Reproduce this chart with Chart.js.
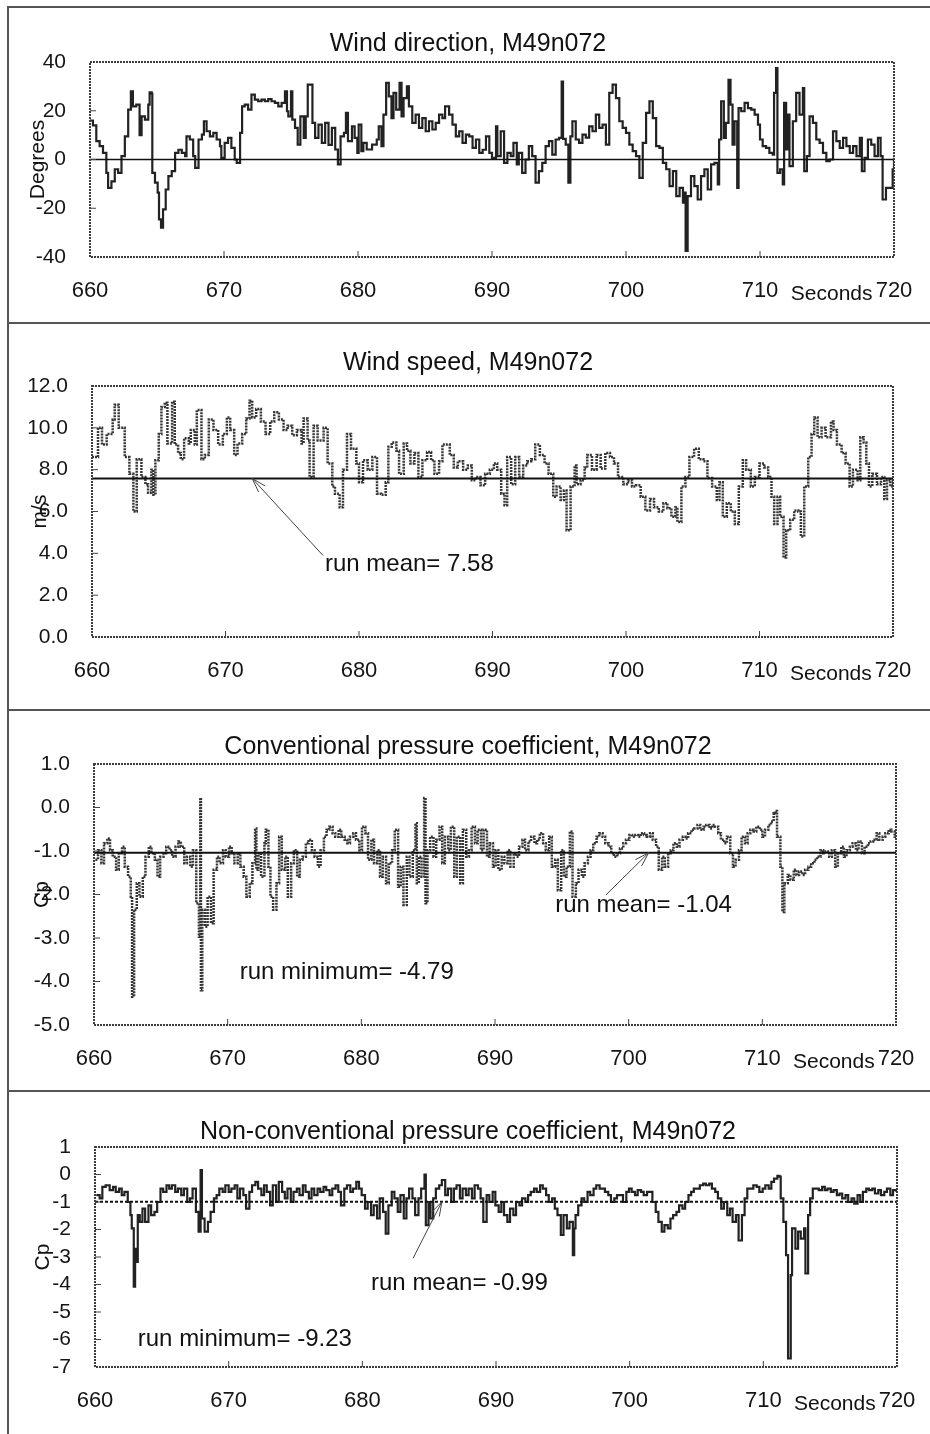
<!DOCTYPE html>
<html>
<head>
    <title>M49n072 time histories, 660-720 s</title>
    <script src="https://cdn.jsdelivr.net/npm/chart.js"></script>
    <style>
        body { margin: 0; background: #fff; }
        #page { position: relative; width: 930px; height: 1434px; overflow: hidden; background: #fff; }
        #page canvas { position: absolute; left: 0; }
        .rule { position: absolute; background: #555; }
    </style>
</head>
<body>
<div id="page">
    <div class="rule" style="left:7px;top:6px;width:923px;height:2px"></div>
    <div class="rule" style="left:7px;top:6px;width:2px;height:1428px"></div>
    <div class="rule" style="left:7px;top:322px;width:923px;height:2px"></div>
    <div class="rule" style="left:7px;top:709px;width:923px;height:2px"></div>
    <div class="rule" style="left:7px;top:1090px;width:923px;height:2px"></div>
    <canvas id="dirChart" width="930" height="314" style="top:8px"></canvas>
    <canvas id="spdChart" width="930" height="385" style="top:324px"></canvas>
    <canvas id="cpChart" width="930" height="379" style="top:711px"></canvas>
    <canvas id="ncpChart" width="930" height="342" style="top:1092px"></canvas>
</div>

<script>
    // ---- data ----
    const secTicks = [660, 670, 680, 690, 700, 710, 720];

    // wind direction (degrees)
    const dirTicks = [-40, -20, 0, 20, 40];
    const dirT = [
        660.0,660.22,660.47,660.72,660.97,661.22,661.35,661.6,661.85,662.1,
        662.35,662.6,662.85,663.05,663.2,663.45,663.7,663.85,664.1,664.35,
        664.45,664.6,664.65,664.85,665.05,665.15,665.3,665.45,665.65,665.85,
        666.1,666.35,666.6,666.85,667.1,667.2,667.45,667.7,667.85,668.1,
        668.35,668.5,668.7,668.95,669.2,669.45,669.7,669.8,670.05,670.3,
        670.55,670.8,670.95,671.2,671.35,671.55,671.8,672.05,672.3,672.55,
        672.8,673.05,673.3,673.55,673.8,674.05,674.3,674.55,674.7,674.8,
        675.0,675.1,675.3,675.5,675.7,675.95,676.1,676.25,676.5,676.6,
        676.8,677.05,677.3,677.55,677.8,678.05,678.3,678.5,678.7,678.95,
        679.1,679.25,679.55,679.75,679.95,680.05,680.25,680.4,680.65,681.05,
        681.4,681.55,681.75,681.9,682.1,682.3,682.5,682.65,682.85,683.1,
        683.25,683.4,683.65,683.8,684.05,684.3,684.55,684.8,685.05,685.3,
        685.55,685.8,686.05,686.3,686.5,686.8,687.05,687.3,687.55,687.8,
        688.05,688.3,688.55,688.8,689.05,689.3,689.55,689.8,690.0,690.3,
        690.4,690.65,690.9,691.15,691.4,691.6,691.85,692.0,692.25,692.5,
        692.75,693.0,693.25,693.5,693.75,694.0,694.25,694.5,694.75,695.0,
        695.2,695.3,695.5,695.7,695.85,696.0,696.25,696.5,696.75,697.0,
        697.25,697.5,697.75,698.0,698.25,698.5,698.75,699.0,699.25,699.5,
        699.75,700.0,700.25,700.5,700.75,701.0,701.25,701.5,701.75,702.0,
        702.25,702.5,702.75,703.0,703.25,703.5,703.75,704.0,704.25,704.35,
        704.45,704.6,704.85,705.1,705.35,705.6,705.85,706.1,706.35,706.6,
        706.85,706.95,707.1,707.3,707.45,707.65,707.8,707.95,708.1,708.3,
        708.4,708.6,708.85,709.1,709.35,709.6,709.85,710.0,710.2,710.45,
        710.7,710.95,711.05,711.2,711.3,711.5,711.7,711.8,711.95,712.05,
        712.2,712.45,712.7,712.95,713.2,713.3,713.5,713.7,713.95,714.2,
        714.45,714.7,714.95,715.2,715.45,715.7,715.95,716.2,716.45,716.7,
        716.95,717.2,717.45,717.6,717.8,718.05,718.3,718.55,718.8,719.0,
        719.15,719.4,719.65,719.9,720.0
    ];
    const dirV = [
        16,14,7.5,5.5,2.7,-5.5,-11.6,-9,-4,-5.5,
        1.4,9.5,20.5,28,21.8,22.5,10,17.7,16.4,22.5,
        27.6,27,-5.5,-9.5,-13.6,-24.6,-28,-20.5,-12.3,-6.8,
        -4.8,2.7,4,2.7,1.4,9.5,8.2,1.4,-3.4,8.2,
        10.2,15.7,11.6,9.5,10.9,8.2,5.5,0.7,6.8,8.9,
        4.8,0,-1.4,10.9,21.8,22.5,20.5,26.6,24.6,23.9,
        24.6,23.9,24.8,23.9,23.2,21.8,23.2,28,19.8,17.7,
        28,16.4,13,6.1,17.7,8.9,17.7,30.7,30.7,15,
        8.9,14.3,6.8,15,6,13,4.1,-2,9.5,10.9,
        19.1,7.5,13.6,8.9,2.7,14.3,3.4,6.8,4.1,6.1,
        8.2,13.6,5.5,18.4,31.4,25.9,17,27.3,20.5,31.4,
        17.7,25.2,30,21.8,15,18.4,13,17,11.6,15.7,
        12.3,15,18.4,17,21.8,18.4,14.3,9.5,11.6,6.8,
        10.2,9.5,4.8,8.2,2.7,4,9.5,2.7,0.7,13.6,
        1.4,11.6,-1.4,2.7,1.4,6.8,-2,2.7,-5.5,0,
        5.5,1.4,-9.5,-4.8,-1.4,5.5,7.5,2,8.2,8.9,
        32,8.5,6.1,-9.5,9.5,15.7,8.2,6.8,10.2,9,
        13.6,11.6,18.4,13,14.3,6.1,27.3,30.7,25.2,15.7,
        13,10.9,6.1,3.4,1.4,-7.5,6.8,19.1,23.9,17,
        5.5,4.8,-1.4,-4,-10.9,-4.8,-15,-11.6,-17.7,-13.6,
        -37.5,-15,-6.8,-10.9,-16.4,-6.8,-4,-12.3,-2,-1.4,
        -10.2,8.2,23.9,8.9,15,32.7,22.5,6.1,15.7,-11.6,
        21.1,19.8,23.2,21.1,20.5,18.4,14.3,8.2,5.5,4.8,
        2.7,2,27.3,37.5,-5.5,-4,-10.2,23.2,4.1,18.4,
        -2.7,15.7,27.3,18.4,29.3,-4.8,1.4,17.7,15,8.2,
        6.8,2.7,-0.7,0,11.6,7.5,4.8,8.9,5.5,2.7,
        5.5,1.4,8.9,-4.8,0.7,8.2,6.1,1.4,8.9,1.4,
        -16.4,-11.6,-11.6,-4,0.7
    ];

    // wind speed (m/s)
    const spdTicks = [0, 2, 4, 6, 8, 10, 12];
    const spdMean = 7.58;
    const spdT = [
        660.0,660.45,660.75,661.1,661.55,661.7,662.0,662.45,662.8,663.1,
        663.35,663.7,664.0,664.2,664.45,664.6,664.75,665.0,665.2,665.45,
        665.65,666.0,666.2,666.45,666.65,666.9,667.25,667.4,667.7,667.85,
        668.2,668.45,668.75,669.1,669.45,669.8,670.1,670.35,670.65,670.9,
        671.25,671.55,671.8,672.0,672.3,672.65,673.0,673.35,673.65,674.0,
        674.35,674.65,675.0,675.35,675.7,675.85,676.15,676.3,676.6,676.9,
        677.35,677.65,678.0,678.2,678.55,678.8,679.1,679.4,679.8,680.0,
        680.3,680.65,681.0,681.35,681.65,682.0,682.2,682.45,682.8,683.0,
        683.35,683.6,683.85,684.15,684.45,684.75,685.1,685.4,685.65,686.0,
        686.25,686.55,686.8,687.1,687.4,687.8,688.15,688.45,688.75,689.1,
        689.45,689.8,690.1,690.35,690.65,690.9,691.1,691.4,691.7,692.0,
        692.3,692.6,692.9,693.2,693.55,693.9,694.2,694.55,694.8,695.1,
        695.35,695.55,695.85,696.15,696.3,696.6,696.9,697.1,697.45,697.8,
        698.1,698.45,698.8,699.1,699.4,699.8,700.15,700.45,700.75,701.1,
        701.45,701.8,702.1,702.45,702.8,703.1,703.4,703.7,703.85,704.15,
        704.45,704.75,705.1,705.45,705.8,706.1,706.45,706.8,707.0,707.25,
        707.55,707.85,708.15,708.45,708.75,709.0,709.35,709.65,710.0,710.35,
        710.65,710.9,711.1,711.35,711.55,711.8,712.0,712.3,712.6,712.9,
        713.1,713.35,713.65,713.9,714.1,714.35,714.65,714.95,715.35,715.55,
        715.8,716.15,716.45,716.75,717.0,717.35,717.55,717.8,718.0,718.2,
        718.45,718.8,719.1,719.35,719.55,719.8,720.0
    ];
    const spdV = [
        8.6,10.0,9.2,9.7,10.4,11.1,10.0,8.6,7.8,6.0,
        8.5,7.65,7.3,6.9,8.0,6.8,8.45,9.7,11.0,11.2,
        9.25,11.25,9.2,8.8,8.5,9.5,9.25,9.9,9.2,10.85,
        8.5,8.7,10.4,9.9,9.2,9.7,10.5,9.9,8.7,9.25,
        9.7,10.45,11.3,10.5,10.9,10.3,9.7,10.3,10.75,10.4,
        9.9,10.1,9.65,9.9,9.25,10.45,9.4,7.65,10.1,9.4,
        10.0,8.3,7.2,6.85,6.2,8.0,9.7,9.0,8.3,7.4,
        8.45,8.0,8.6,6.85,6.8,7.4,9.1,9.3,8.9,7.8,
        9.25,8.9,8.3,8.8,7.65,8.45,8.85,8.45,7.8,8.4,
        9.2,9.2,8.7,8.1,8.4,8.0,8.2,7.5,7.65,7.25,
        7.8,8.0,8.3,8.0,6.85,6.3,8.6,7.3,8.6,7.65,
        8.2,8.4,8.5,9.2,8.7,8.3,7.8,6.7,7.2,6.55,
        7.0,5.1,7.2,8.2,7.3,7.5,8.1,8.7,8.0,8.7,
        8.05,8.8,8.6,8.3,7.65,7.3,7.5,7.2,7.25,6.7,
        6.05,6.6,6.2,6.0,6.4,6.15,5.75,6.2,5.5,7.2,
        7.65,8.6,9.0,8.5,8.4,7.6,7.2,6.55,7.4,5.75,
        6.4,6.0,5.4,7.2,8.45,8.0,7.2,7.65,8.3,8.1,
        7.65,6.7,5.4,6.7,5.75,3.8,5.1,5.6,6.05,6.0,
        4.8,7.2,8.6,9.7,10.5,9.55,10.0,9.55,10.3,9.9,
        9.2,8.8,8.3,7.2,8.0,7.5,9.55,9.3,8.3,7.2,
        7.8,7.3,7.65,6.6,7.5,7.2,7.5
    ];

    // conventional Cp
    const cpTicks = [-5, -4, -3, -2, -1, 0, 1];
    const cpMean = -1.04;
    const cpMin = -4.79;
    const cpT = [
        660.1,660.3,660.55,660.75,661.0,661.2,661.4,661.65,661.85,662.1,
        662.3,662.55,662.75,662.85,663.0,663.2,663.4,663.65,663.85,664.1,
        664.3,664.55,664.75,664.95,665.2,665.4,665.65,665.85,666.1,666.3,
        666.5,666.75,666.95,667.2,667.4,667.65,667.85,667.95,668.0,668.1,
        668.3,668.5,668.75,668.95,669.2,669.4,669.65,669.85,670.1,670.3,
        670.5,670.75,670.95,671.2,671.4,671.65,671.85,672.05,672.15,672.3,
        672.5,672.75,672.85,673.05,673.2,673.4,673.65,673.85,674.05,674.3,
        674.5,674.75,674.95,675.2,675.4,675.6,675.85,676.05,676.3,676.5,
        676.75,676.95,677.2,677.4,677.6,677.85,678.05,678.3,678.5,678.75,
        678.95,679.15,679.4,679.6,679.85,680.05,680.3,680.5,680.75,680.95,
        681.2,681.4,681.6,681.85,682.05,682.3,682.5,682.75,682.95,683.15,
        683.4,683.6,683.85,684.05,684.15,684.3,684.5,684.7,684.8,684.95,
        685.15,685.4,685.6,685.85,686.05,686.25,686.5,686.7,686.95,687.15,
        687.4,687.6,687.85,688.05,688.25,688.5,688.7,688.95,689.15,689.4,
        689.6,689.85,690.05,690.25,690.5,690.7,690.95,691.15,691.4,691.6,
        691.8,692.05,692.25,692.5,692.7,692.95,693.15,693.35,693.6,693.8,
        694.05,694.25,694.5,694.7,694.95,695.15,695.35,695.6,695.8,696.05,
        696.25,696.5,696.7,696.95,697.15,697.35,697.6,697.8,698.05,698.25,
        698.5,698.7,698.9,699.15,699.35,699.6,699.8,700.05,700.25,700.5,
        700.7,700.9,701.15,701.35,701.6,701.8,702.05,702.25,702.5,702.7,
        702.95,703.15,703.35,703.6,703.8,704.05,704.25,704.45,704.7,704.9,
        705.15,705.35,705.6,705.8,706.05,706.25,706.45,706.7,706.9,707.15,
        707.35,707.6,707.8,708.0,708.25,708.45,708.7,708.9,709.1,709.35,
        709.55,709.8,710.0,710.2,710.45,710.65,710.85,710.95,711.1,711.35,
        711.5,711.65,711.9,712.1,712.35,712.55,712.75,713.0,713.2,713.45,
        713.65,713.9,714.1,714.35,714.55,714.75,715.0,715.2,715.45,715.65,
        715.9,716.1,716.3,716.55,716.75,717.0,717.2,717.45,717.65,717.9,
        718.1,718.3,718.55,718.75,719.0,719.2,719.45,719.65,719.9,720.0
    ];
    const cpV = [
        -1.2,-0.98,-1.28,-0.82,-0.71,-0.98,-1.13,-1.43,-1.05,-0.9,
        -1.36,-1.59,-2.05,-4.35,-2.35,-1.74,-2.05,-1.59,-1.13,-0.9,
        -1.05,-1.2,-1.59,-1.13,-1.05,-0.9,-0.98,-1.13,-0.9,-0.78,
        -0.9,-1.28,-1.13,-1.36,-0.98,-2.2,-2.97,0.22,-4.2,-2.35,
        -2.74,-2.05,-2.66,-1.43,-1.13,-1.28,-0.98,-1.13,-0.9,-1.05,
        -1.28,-1.05,-1.36,-1.59,-2.05,-1.74,-1.28,-0.48,-1.43,-1.05,
        -1.59,-0.82,-0.51,-1.36,-2.05,-2.35,-1.74,-0.67,-1.43,-1.13,
        -2.05,-1.28,-0.98,-1.59,-1.2,-1.13,-0.82,-0.74,-0.98,-1.13,
        -1.36,-0.98,-0.67,-0.51,-0.44,-0.59,-0.67,-0.51,-0.67,-0.74,
        -0.82,-0.67,-0.59,-0.74,-0.98,-0.44,-0.59,-1.2,-0.74,-1.28,
        -0.98,-1.59,-1.13,-1.74,-1.28,-0.98,-0.51,-1.82,-1.36,-2.24,
        -1.13,-1.59,-0.98,-0.36,-1.74,-1.13,-1.59,0.22,-2.2,-0.98,
        -0.67,-1.13,-0.74,-0.44,-1.28,-0.67,-0.98,-0.44,-1.59,-0.67,
        -1.74,-0.51,-1.13,-0.98,-0.44,-0.82,-0.51,-0.98,-0.51,-1.13,
        -0.82,-1.36,-0.98,-1.43,-1.13,-1.28,-0.98,-1.36,-1.05,-1.13,
        -0.9,-0.74,-0.98,-0.78,-0.67,-0.82,-0.74,-0.59,-0.82,-0.98,
        -0.67,-1.36,-1.2,-1.9,-0.98,-1.59,-1.36,-0.55,-2.05,-1.74,
        -1.43,-1.59,-1.28,-1.13,-0.98,-0.82,-0.67,-0.59,-0.67,-0.82,
        -0.9,-1.05,-1.13,-1.05,-0.94,-0.82,-0.74,-0.63,-0.67,-0.63,
        -0.67,-0.59,-0.63,-0.67,-0.59,-0.74,-0.9,-1.43,-1.13,-1.36,
        -1.05,-0.98,-0.82,-0.9,-0.74,-0.67,-0.71,-0.59,-0.51,-0.48,
        -0.4,-0.51,-0.44,-0.4,-0.48,-0.4,-0.44,-0.59,-0.74,-0.82,
        -0.67,-1.05,-1.36,-1.2,-0.98,-0.67,-0.82,-0.59,-0.51,-0.55,
        -0.44,-0.51,-0.67,-0.51,-0.4,-0.32,-0.13,-0.08,-0.67,-1.36,
        -2.4,-1.74,-1.55,-1.66,-1.43,-1.55,-1.47,-1.55,-1.43,-1.36,
        -1.28,-1.2,-1.13,-0.98,-1.05,-1.01,-1.13,-0.98,-1.36,-1.05,
        -0.9,-1.13,-0.98,-0.9,-0.82,-0.98,-0.78,-1.05,-0.9,-0.82,
        -0.78,-0.74,-0.59,-0.74,-0.67,-0.59,-0.51,-0.55,-0.67,-0.6
    ];

    // non-conventional Cp
    const ncpTicks = [-7, -6, -5, -4, -3, -2, -1, 0, 1];
    const ncpMean = -0.99;
    const ncpMin = -9.23;
    const ncpT = [
        660.1,660.35,660.55,660.8,661.1,661.35,661.55,661.8,662.0,662.2,
        662.45,662.65,662.75,662.9,663.0,663.1,663.2,663.35,663.55,663.75,
        664.0,664.2,664.45,664.65,664.9,665.1,665.35,665.55,665.75,666.0,
        666.2,666.45,666.65,666.9,667.1,667.3,667.55,667.75,667.9,668.0,
        668.2,668.45,668.65,668.9,669.1,669.3,669.55,669.75,670.0,670.2,
        670.45,670.65,670.85,671.1,671.3,671.55,671.75,672.0,672.2,672.45,
        672.65,672.85,673.1,673.3,673.55,673.75,674.0,674.2,674.4,674.65,
        674.85,675.1,675.3,675.55,675.75,676.0,676.2,676.4,676.65,676.85,
        677.1,677.3,677.55,677.75,678.0,678.2,678.4,678.65,678.85,679.1,
        679.3,679.55,679.75,679.95,680.2,680.4,680.65,680.85,681.1,681.3,
        681.55,681.75,681.95,682.2,682.4,682.65,682.85,683.1,683.3,683.5,
        683.75,683.95,684.2,684.4,684.65,684.75,684.95,685.1,685.3,685.5,
        685.75,685.95,686.2,686.4,686.65,686.85,687.05,687.3,687.5,687.75,
        687.95,688.2,688.4,688.65,688.85,689.05,689.3,689.5,689.75,689.95,
        690.2,690.4,690.6,690.85,691.05,691.3,691.5,691.75,691.95,692.2,
        692.4,692.6,692.85,693.05,693.3,693.5,693.75,693.95,694.2,694.4,
        694.6,694.85,695.05,695.3,695.5,695.75,695.85,695.95,696.15,696.4,
        696.6,696.85,697.05,697.3,697.5,697.75,697.95,698.15,698.4,698.6,
        698.85,699.05,699.3,699.5,699.75,699.95,700.15,700.4,700.6,700.85,
        701.05,701.3,701.5,701.7,701.95,702.15,702.4,702.6,702.85,703.05,
        703.25,703.5,703.7,703.95,704.15,704.4,704.6,704.8,705.05,705.25,
        705.5,705.7,705.95,706.15,706.4,706.6,706.85,707.05,707.3,707.5,
        707.7,707.95,708.15,708.4,708.6,708.8,709.05,709.25,709.5,709.7,
        709.95,710.15,710.4,710.6,710.8,711.05,711.2,711.3,711.5,711.7,
        711.85,712.05,712.15,712.4,712.6,712.8,713.05,713.15,713.35,713.5,
        713.7,713.95,714.15,714.4,714.6,714.8,715.05,715.25,715.5,715.7,
        715.9,716.15,716.35,716.6,716.8,717.05,717.25,717.45,717.7,717.9,
        718.15,718.35,718.6,718.8,719.05,719.25,719.5,719.7,719.95
    ];
    const ncpV = [
        -0.75,-0.87,-0.45,-0.39,-0.57,-0.45,-0.63,-0.51,-0.75,-0.63,
        -1.0,-1.48,-1.96,-4.08,-2.7,-3.18,-1.48,-1.72,-1.24,-1.72,
        -1.12,-1.48,-1.36,-1.0,-0.51,-0.63,-0.39,-0.51,-0.39,-0.63,
        -0.51,-0.75,-0.51,-1.0,-0.87,-0.51,-1.36,-2.08,0.16,-1.6,
        -2.08,-1.72,-1.36,-0.87,-0.75,-0.51,-0.63,-0.39,-0.63,-0.51,
        -0.39,-0.87,-0.51,-0.75,-1.24,-0.63,-0.39,-0.27,-0.51,-0.75,
        -0.39,-0.63,-1.12,-0.39,-1.0,-0.27,-0.63,-0.87,-0.51,-1.0,
        -0.63,-0.51,-0.75,-0.39,-0.63,-0.87,-0.51,-0.75,-0.51,-0.63,
        -0.45,-0.57,-0.75,-0.51,-0.39,-0.63,-1.12,-0.51,-0.39,-0.63,
        -0.51,-0.27,-0.51,-0.75,-1.24,-1.0,-1.48,-1.12,-1.6,-0.87,
        -1.36,-2.15,-1.12,-0.63,-0.87,-1.36,-0.75,-1.6,-0.87,-0.51,
        -0.87,-1.48,-0.87,-0.51,0.0,-1.84,-1.0,-1.6,-0.87,-0.51,
        -0.39,-0.2,-0.75,-0.51,-1.0,-0.51,-0.39,-0.87,-0.51,-0.75,
        -0.51,-0.87,-0.39,-0.51,-0.87,-1.72,-0.75,-1.0,-0.63,-1.12,
        -1.36,-1.0,-1.48,-1.72,-1.24,-1.48,-1.0,-1.12,-0.87,-1.0,
        -0.75,-0.63,-0.51,-0.63,-0.39,-0.51,-0.75,-1.0,-0.87,-1.24,
        -1.48,-2.2,-1.48,-1.96,-1.72,-2.93,-1.96,-1.48,-1.12,-0.87,
        -1.0,-0.63,-0.75,-0.51,-0.39,-0.51,-0.51,-0.63,-0.75,-1.0,
        -0.87,-0.75,-0.75,-1.0,-0.63,-0.51,-0.63,-0.75,-0.57,-0.63,
        -0.75,-0.63,-0.63,-1.0,-1.36,-1.72,-2.08,-1.84,-1.96,-1.6,
        -1.48,-1.36,-1.12,-1.24,-1.0,-0.75,-0.63,-0.51,-0.51,-0.39,
        -0.33,-0.39,-0.33,-0.51,-0.63,-0.87,-1.24,-1.0,-1.48,-1.24,
        -1.72,-1.48,-2.4,-1.48,-0.87,-0.51,-0.51,-0.39,-0.45,-0.63,
        -0.51,-0.39,-0.51,-0.27,-0.15,-0.05,-0.08,-0.87,-1.72,-2.93,
        -6.69,-3.66,-1.96,-2.7,-2.08,-2.33,-1.96,-3.6,-1.48,-0.87,
        -0.51,-0.51,-0.57,-0.45,-0.57,-0.51,-0.63,-0.57,-0.75,-0.69,
        -0.87,-0.75,-1.0,-0.87,-1.06,-0.75,-1.0,-0.63,-0.51,-0.57,
        -0.51,-0.69,-0.57,-0.75,-0.63,-0.51,-0.75,-0.57,-0.63
    ];

    // ---- drawing ----
    const FONT = '"Liberation Sans", Arial, Helvetica, sans-serif';
    Chart.defaults.font.family = FONT;
    Chart.defaults.color = '#151515';

    function drawArrow(ctx, x0, y0, x1, y1) {
        const ang = Math.atan2(y1 - y0, x1 - x0);
        ctx.beginPath();
        ctx.moveTo(x0, y0);
        ctx.lineTo(x1, y1);
        ctx.moveTo(x1 - 15 * Math.cos(ang - 0.3), y1 - 15 * Math.sin(ang - 0.3));
        ctx.lineTo(x1, y1);
        ctx.lineTo(x1 - 15 * Math.cos(ang + 0.3), y1 - 15 * Math.sin(ang + 0.3));
        ctx.stroke();
    }

    // frame, inward ticks, titles, reference line and notes
    const decor = {
        id: 'decor',
        afterDatasetsDraw(chart, args, o) {
            const { ctx, chartArea: a, scales: { x, y } } = chart;
            ctx.save();

            if (o.refLine !== undefined) {
                const py = y.getPixelForValue(o.refLine);
                ctx.strokeStyle = '#111';
                ctx.lineWidth = o.refWidth;
                ctx.setLineDash(o.refDash);
                ctx.beginPath();
                ctx.moveTo(a.left, py);
                ctx.lineTo(a.right, py);
                ctx.stroke();
            }

            ctx.strokeStyle = '#3c3c3c';
            ctx.lineWidth = 2;
            ctx.setLineDash([2, 1]);
            ctx.strokeRect(a.left, a.top, a.width, a.height);
            ctx.setLineDash([]);

            ctx.lineWidth = 1;
            ctx.strokeStyle = '#444';
            ctx.beginPath();
            y.ticks.forEach(t => {
                const py = y.getPixelForValue(t.value);
                if (py > a.top + 3 && py < a.bottom - 3) { ctx.moveTo(a.left, py); ctx.lineTo(a.left + 6, py); }
            });
            x.ticks.forEach(t => {
                const px = x.getPixelForValue(t.value);
                if (px > a.left + 3 && px < a.right - 3) { ctx.moveTo(px, a.bottom); ctx.lineTo(px, a.bottom - 6); }
            });
            ctx.stroke();

            ctx.fillStyle = '#111';
            ctx.textAlign = 'center';
            ctx.textBaseline = 'middle';
            ctx.font = '25px ' + FONT;
            ctx.fillText(o.title, chart.width / 2 + 3, a.top + o.titleDy);

            ctx.font = '21px ' + FONT;
            ctx.fillText('Seconds', x.getPixelForValue(715.35), a.bottom + 37);

            ctx.save();
            ctx.translate(a.left - 52, (a.top + a.bottom) / 2);
            ctx.rotate(-Math.PI / 2);
            ctx.fillText(o.yLabel, 0, 0);
            ctx.restore();

            ctx.font = '24px ' + FONT;
            ctx.textAlign = 'left';
            ctx.strokeStyle = '#444';
            ctx.lineWidth = 1;
            (o.notes || []).forEach(n => {
                ctx.fillText(n.text, x.getPixelForValue(n.at[0]), y.getPixelForValue(n.at[1]));
                if (n.arrow) {
                    const [t0, v0, t1, v1] = n.arrow;
                    drawArrow(ctx, x.getPixelForValue(t0), y.getPixelForValue(v0),
                        x.getPixelForValue(t1), y.getPixelForValue(v1));
                }
            });
            ctx.restore();
        }
    };

    function makeChart(id, box, t, v, yTicks, yFmt, line, decorOpts) {
        const canvas = document.getElementById(id);
        const top = parseInt(canvas.style.top);
        const points = t.map((tt, i) => ({ x: tt, y: v[i] }));
        return new Chart(canvas, {
            type: 'line',
            data: {
                datasets: [{
                    data: points,
                    stepped: true,
                    borderColor: line.color,
                    borderWidth: line.width,
                    borderDash: line.dash,
                    pointRadius: 0,
                    fill: false
                }]
            },
            options: {
                responsive: false,
                animation: false,
                devicePixelRatio: 1,
                layout: { padding: { left: 0, top: box.t - top, right: 930 - box.r, bottom: 0 } },
                plugins: { legend: { display: false }, tooltip: { enabled: false }, decor: decorOpts },
                scales: {
                    x: {
                        type: 'linear',
                        min: secTicks[0],
                        max: secTicks[secTicks.length - 1],
                        grid: { display: false },
                        border: { display: false },
                        afterBuildTicks: s => { s.ticks = secTicks.map(val => ({ value: val })); },
                        afterFit: s => { s.height = top + canvas.height - box.b; },
                        ticks: { padding: 13, autoSkip: false, maxRotation: 0, font: { size: 22 }, color: '#151515' }
                    },
                    y: {
                        min: yTicks[0],
                        max: yTicks[yTicks.length - 1],
                        grid: { display: false },
                        border: { display: false },
                        afterBuildTicks: s => { s.ticks = yTicks.map(val => ({ value: val })); },
                        afterFit: s => { s.width = box.l; },
                        ticks: { padding: 16, autoSkip: false, font: { size: 21 }, color: '#151515', callback: yFmt }
                    }
                }
            },
            plugins: [decor]
        });
    }

    const solid = { color: '#222', width: 2.2, dash: [] };
    const dotted = { color: '#363636', width: 2.5, dash: [2, 1] };

    makeChart('dirChart', { l: 90, t: 62, r: 894, b: 257 }, dirT, dirV, dirTicks, val => String(val), solid, {
        title: 'Wind direction, M49n072', titleDy: -18, yLabel: 'Degrees',
        refLine: 0, refWidth: 1.5, refDash: []
    });

    makeChart('spdChart', { l: 92, t: 386, r: 893, b: 637 }, spdT, spdV, spdTicks, val => val.toFixed(1), dotted, {
        title: 'Wind speed, M49n072', titleDy: -23, yLabel: 'm/s',
        refLine: spdMean, refWidth: 2, refDash: [],
        notes: [{ text: 'run mean= ' + spdMean, at: [677.45, 3.45], arrow: [677.3, 3.9, 672.0, spdMean] }]
    });

    makeChart('cpChart', { l: 94, t: 764, r: 896, b: 1025 }, cpT, cpV, cpTicks, val => val.toFixed(1), dotted, {
        title: 'Conventional pressure coefficient, M49n072', titleDy: -17, yLabel: 'Cp',
        refLine: cpMean, refWidth: 2, refDash: [],
        notes: [
            { text: 'run mean= ' + cpMean, at: [694.5, -2.26], arrow: [698.3, -2.01, 701.5, cpMean] },
            { text: 'run minimum= ' + cpMin, at: [670.9, -3.78] }
        ]
    });

    makeChart('ncpChart', { l: 95, t: 1147, r: 897, b: 1367 }, ncpT, ncpV, ncpTicks, val => String(val), solid, {
        title: 'Non-conventional pressure coefficient, M49n072', titleDy: -15, yLabel: 'Cp',
        refLine: ncpMean, refWidth: 2, refDash: [3, 2],
        notes: [
            { text: 'run mean= ' + ncpMean, at: [680.65, -3.95], arrow: [683.8, -3.04, 685.95, ncpMean] },
            { text: 'run minimum= ' + ncpMin, at: [663.2, -5.98] }
        ]
    });
</script>
</body>
</html>
